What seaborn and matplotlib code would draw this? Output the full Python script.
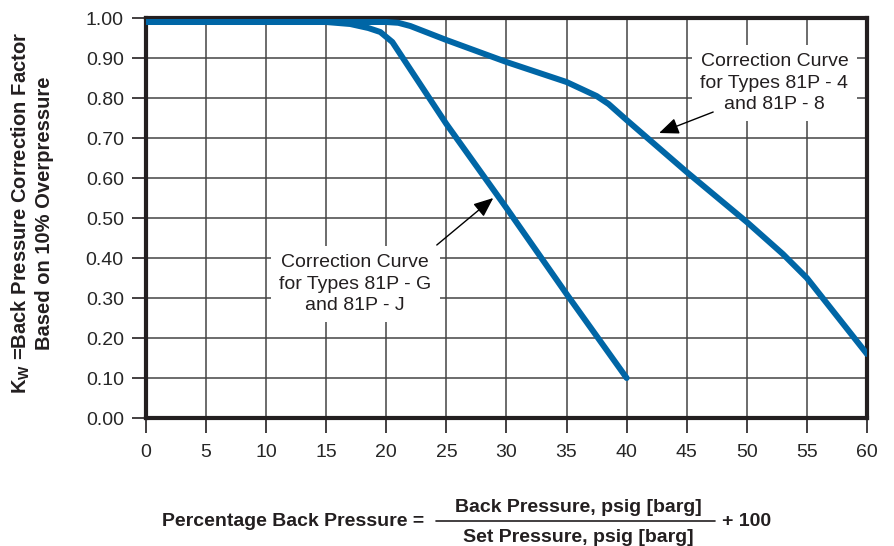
import matplotlib
matplotlib.use("Agg")
import matplotlib.pyplot as plt
from matplotlib.lines import Line2D
import seaborn as sns

# curve for 81P-G / 81P-J
gj_x = [0, 15, 17, 18.5, 19.5, 20.5, 25, 30, 35, 40]
gj_y = [0.99, 0.99, 0.985, 0.975, 0.965, 0.94, 0.735, 0.525, 0.31, 0.10]

# curve for 81P-4 / 81P-8
p48_x = [0, 20, 21, 22, 25, 30, 35, 37.5, 38.5, 40, 45, 50, 53, 55, 60]
p48_y = [0.99, 0.99, 0.988, 0.98, 0.945, 0.89, 0.84, 0.805, 0.785, 0.745,
         0.615, 0.49, 0.41, 0.35, 0.16]

x_ticks = list(range(0, 61, 5))
y_ticks = [i / 10 for i in range(0, 11)]

sns.set_style("white")
plt.rcParams['font.family'] = ['Liberation Sans', 'DejaVu Sans']
plt.rcParams['mathtext.fontset'] = 'custom'
plt.rcParams['mathtext.rm'] = 'Liberation Sans'
plt.rcParams['mathtext.bf'] = 'Liberation Sans:bold'

blue = "#0066a6"
dark = "#231f20"

fig = plt.figure(figsize=(8.95, 5.46), dpi=100)
ax = fig.add_axes([0.1631, 0.2344, 0.8056, 0.7326])

sns.lineplot(x=gj_x, y=gj_y, ax=ax, color=blue, linewidth=4.3, zorder=5, sort=False)
sns.lineplot(x=p48_x, y=p48_y, ax=ax, color=blue, linewidth=4.3, zorder=5, sort=False)

ax.set_xlim(0, 60)
ax.set_ylim(0, 1.0)
ax.set_xticks(x_ticks)
ax.set_yticks(y_ticks)
ax.set_xticklabels([str(v) for v in x_ticks], fontsize=14)
ax.set_yticklabels([f"{v:.2f}" for v in y_ticks], fontsize=14)
ax.tick_params(axis='y', direction='out', length=10, width=1.2, color=dark, pad=6, left=True)
ax.tick_params(axis='x', direction='out', length=11, width=1.2, color=dark, pad=8, bottom=True)
ax.grid(True, color="#444444", linewidth=1.1, zorder=1)
ax.set_axisbelow(True)
for s in ax.spines.values():
    s.set_visible(True)
    s.set_linewidth(3)
    s.set_color(dark)

ax.set_ylabel("")
ax.set_xlabel("")
fig.text(32 / 895, 1 - 213 / 546,
         "K$_{\\mathbf{W}}$ =Back Pressure Correction Factor\nBased on 10% Overpressure",
         rotation=90, ha='center', va='center', multialignment='center',
         fontsize=14.5, fontweight='bold', linespacing=1.2, color=dark)

box = dict(facecolor="white", edgecolor="none", pad=6)
arrow = dict(arrowstyle='-|>,head_length=0.6,head_width=0.25', color='black', lw=1,
             mutation_scale=20, shrinkA=0, shrinkB=0)

ax.text(52.3, 0.8375, "Correction Curve\nfor Types 81P - 4\nand 81P - 8",
        ha='center', va='center', fontsize=14, linespacing=1.35,
        bbox=box, zorder=4, color=dark)
ax.annotate("", xy=(42.7, 0.7125), xytext=(47.2, 0.765), arrowprops=arrow, zorder=6)

ax.text(17.4, 0.335, "Correction Curve\nfor Types 81P - G\nand 81P - J",
        ha='center', va='center', fontsize=14, linespacing=1.35,
        bbox=box, zorder=4, color=dark)
ax.annotate("", xy=(28.9, 0.55), xytext=(24.2, 0.4325), arrowprops=arrow, zorder=6)

# x axis formula
fs = 14
fig.text(162 / 895, 1 - 522 / 546, "Percentage Back Pressure =", ha='left', va='center',
         fontsize=fs, fontweight='bold', color=dark)
fig.text(578 / 895, 1 - 507 / 546, "Back Pressure, psig [barg]", ha='center', va='center',
         fontsize=fs, fontweight='bold', color=dark)
fig.text(578 / 895, 1 - 537 / 546, "Set Pressure, psig [barg]", ha='center', va='center',
         fontsize=fs, fontweight='bold', color=dark)
fig.text(722 / 895, 1 - 522 / 546, "+ 100", ha='left', va='center',
         fontsize=fs, fontweight='bold', color=dark)
fig.add_artist(Line2D([436 / 895, 715 / 895], [1 - 521 / 546, 1 - 521 / 546],
                      color=dark, linewidth=1.2, transform=fig.transFigure))

fig.savefig("out.png", dpi=100)
